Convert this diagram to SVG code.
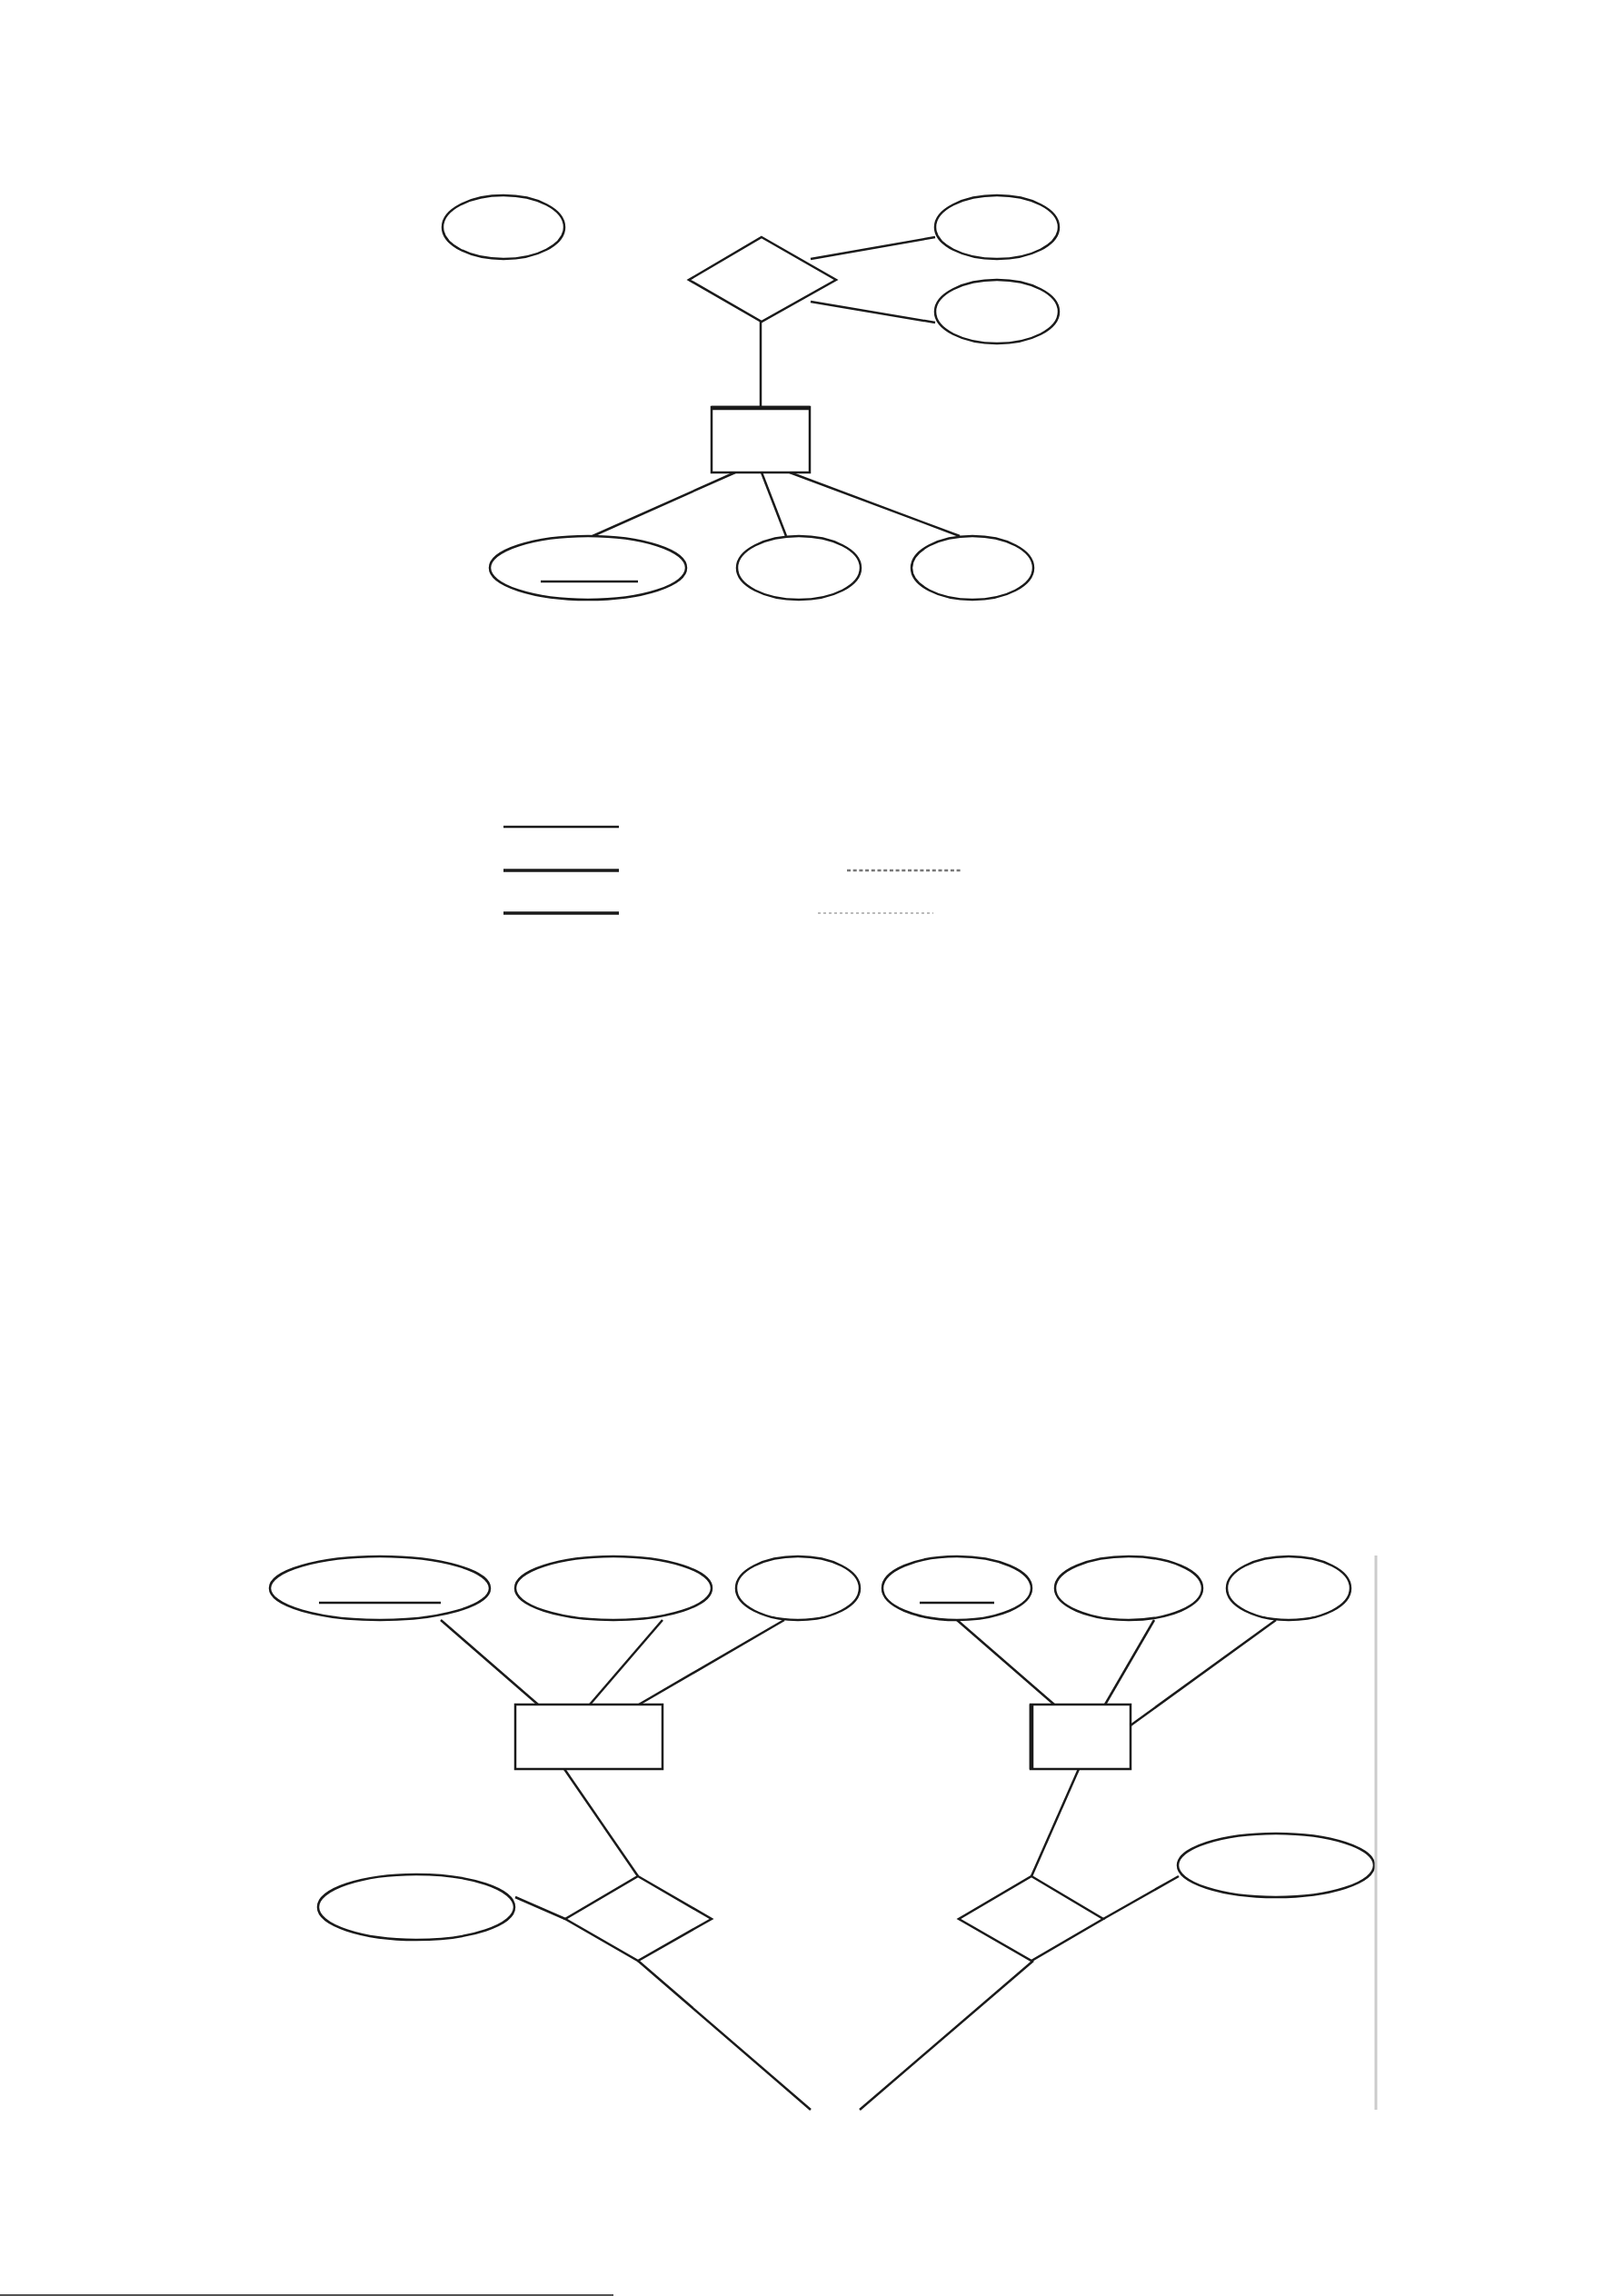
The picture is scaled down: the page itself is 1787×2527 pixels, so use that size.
<svg xmlns="http://www.w3.org/2000/svg" width="1787" height="2527" viewBox="0 0 1787 2527">
<style>
.s{fill:#fff;stroke:#1a1a1a;stroke-width:2.5}
.c{stroke:#1a1a1a;stroke-width:2.5;fill:none}
.u{stroke:#1a1a1a;stroke-width:2.5}
</style>
<rect width="1787" height="2527" fill="#fff"/>
<g id="connectors">
<line class="c" x1="892" y1="285" x2="1029" y2="261"/>
<line class="c" x1="892" y1="332" x2="1029" y2="355"/>
<line class="c" x1="837" y1="354" x2="837" y2="448"/>
<line class="c" x1="809" y1="520" x2="652" y2="590"/>
<line class="c" x1="838" y1="520" x2="865" y2="590"/>
<line class="c" x1="869" y1="520" x2="1056" y2="590"/>
<line class="c" x1="485" y1="1783" x2="592" y2="1876"/>
<line class="c" x1="729" y1="1783" x2="649" y2="1876"/>
<line class="c" x1="863" y1="1783" x2="703" y2="1876"/>
<line class="c" x1="621" y1="1947" x2="702" y2="2065"/>
<line class="c" x1="567" y1="2088" x2="622" y2="2112"/>
<line class="c" x1="702" y1="2158" x2="892" y2="2322"/>
<line class="c" x1="1053" y1="1783" x2="1160" y2="1876"/>
<line class="c" x1="1270" y1="1783" x2="1216" y2="1876"/>
<line class="c" x1="1404" y1="1783" x2="1244" y2="1899"/>
<line class="c" x1="1187" y1="1947" x2="1135" y2="2065"/>
<line class="c" x1="1214" y1="2112" x2="1297" y2="2065"/>
<line class="c" x1="1137" y1="2158" x2="946" y2="2322"/>
</g>
<g id="top-e1"><ellipse class="s" cx="554" cy="250" rx="67" ry="35"/></g>
<g id="top-e2"><ellipse class="s" cx="1097" cy="250" rx="68" ry="35"/></g>
<g id="top-e3"><ellipse class="s" cx="1097" cy="343" rx="68" ry="35"/></g>
<g id="top-rel"><polygon class="s" points="838,261 920,308 838,354 758,308"/></g>
<g id="top-ent"><rect class="s" x="783" y="448" width="108" height="72"/><line x1="783" y1="449" x2="891" y2="449" stroke="#1a1a1a" stroke-width="4.5"/></g>
<g id="top-a"><ellipse class="s" cx="647" cy="625" rx="108" ry="35"/><line class="u" x1="595" y1="640" x2="702" y2="640"/></g>
<g id="top-b"><ellipse class="s" cx="879" cy="625" rx="68" ry="35"/></g>
<g id="top-c"><ellipse class="s" cx="1070" cy="625" rx="67" ry="35"/></g>
<g id="legend">
<line x1="554" y1="910" x2="681" y2="910" stroke="#1a1a1a" stroke-width="2.5"/>
<line x1="554" y1="958" x2="681" y2="958" stroke="#1a1a1a" stroke-width="3.5"/>
<line x1="554" y1="1005" x2="681" y2="1005" stroke="#1a1a1a" stroke-width="3.5"/>
<line x1="932" y1="958" x2="1058" y2="958" stroke="#777" stroke-width="2.5" stroke-dasharray="4 2.7"/>
<line x1="900" y1="1005" x2="1027" y2="1005" stroke="#bbb" stroke-width="2" stroke-dasharray="3 3"/>
</g>
<g id="l-e1"><ellipse class="s" cx="418" cy="1748" rx="121" ry="35"/><line class="u" x1="351" y1="1764" x2="485" y2="1764"/></g>
<g id="l-e2"><ellipse class="s" cx="675" cy="1748" rx="108" ry="35"/></g>
<g id="l-e3"><ellipse class="s" cx="878" cy="1748" rx="68" ry="35"/></g>
<g id="l-ent"><rect class="s" x="567" y="1876" width="162" height="71"/></g>
<g id="l-rel"><polygon class="s" points="702,2065 783,2112 702,2158 622,2112"/></g>
<g id="l-e4"><ellipse class="s" cx="458" cy="2099" rx="108" ry="36"/></g>
<g id="r-e1"><ellipse class="s" cx="1053" cy="1748" rx="82" ry="35"/><line class="u" x1="1012" y1="1764" x2="1094" y2="1764"/></g>
<g id="r-e2"><ellipse class="s" cx="1242" cy="1748" rx="81" ry="35"/></g>
<g id="r-e3"><ellipse class="s" cx="1418" cy="1748" rx="68" ry="35"/></g>
<g id="r-ent"><rect class="s" x="1134" y="1876" width="110" height="71"/><line x1="1135" y1="1876" x2="1135" y2="1947" stroke="#1a1a1a" stroke-width="4.5"/></g>
<g id="r-rel"><polygon class="s" points="1135,2065 1214,2112 1135,2158 1055,2112"/></g>
<g id="r-e4"><ellipse class="s" cx="1404" cy="2053" rx="108" ry="35"/></g>
<line x1="1514" y1="1712" x2="1514" y2="2322" stroke="#ccc" stroke-width="3"/>
<line x1="0" y1="2526" x2="675" y2="2526" stroke="#1a1a1a" stroke-width="1.5"/>
</svg>
